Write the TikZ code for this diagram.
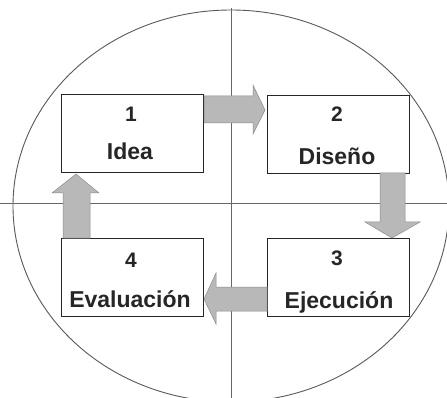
\documentclass[tikz,border=0pt]{standalone}
\usepackage{fontspec}
\setmainfont{Liberation Sans}
\begin{document}
\begin{tikzpicture}[x=1pt,y=-1pt,
  stagebox/.style={draw=black!85,line width=1.1pt,fill=white,minimum width=142pt,minimum height=78pt,inner sep=0pt,anchor=north west},
  blockarrow/.style={fill=black!28,draw=black!45,line width=0.5pt},
  guide/.style={draw=black!60,line width=0.7pt},
  lbl/.style={font=\fontsize{23}{25}\selectfont\bfseries,text=black!85,anchor=base,inner sep=0pt},
  num/.style={font=\fontsize{21}{23}\selectfont\bfseries,text=black!85,anchor=base,inner sep=0pt}]
\useasboundingbox (0,0) rectangle (447,398);
\fill[white] (0,0) rectangle (447,398);
% ellipse and cross
\draw[black!65,line width=0.9pt] (231,206) ellipse [x radius=218, y radius=196];
\draw[guide] (231,8) -- (231,398);
\draw[guide] (0,203) -- (447,203);
% boxes
\node[stagebox] (b1) at (61,94) {};
\node[stagebox] (b2) at (267,95) {};
\node[stagebox] (b3) at (267,238) {};
\node[stagebox] (b4) at (61,238) {};
% texts
\node[num] (n1) at (131,122) {1};
\node[lbl] (t1) at (130,160) {Idea};
\node[num] (n2) at (337,122) {2};
\node[lbl] (t2) at (337,165) {Diseño};
\node[num] (n3) at (337,265) {3};
\node[lbl] (t3) at (339,308) {Ejecución};
\node[num] (n4) at (131,267) {4};
\node[lbl] (t4) at (130,307) {Evaluación};
% block arrows
\draw[blockarrow] (b1.east |- 0,96) -- (253,96) -- (253,85) -- (265,110) -- (253,134) -- (253,123) -- (b1.east |- 0,123) -- cycle;
\draw[blockarrow] (380,173) -- (380,222) -- (365,222) -- (392,238) -- (420,222) -- (405,222) -- (405,173) -- cycle;
\draw[blockarrow] (b3.west |- 0,287) -- (216,287) -- (216,273) -- (204,299) -- (216,324) -- (216,311) -- (b3.west |- 0,311) -- cycle;
\draw[blockarrow] (63,238) -- (63,193) -- (52,193) -- (76,174) -- (99,193) -- (90,193) -- (90,238) -- cycle;
\end{tikzpicture}
\end{document}
